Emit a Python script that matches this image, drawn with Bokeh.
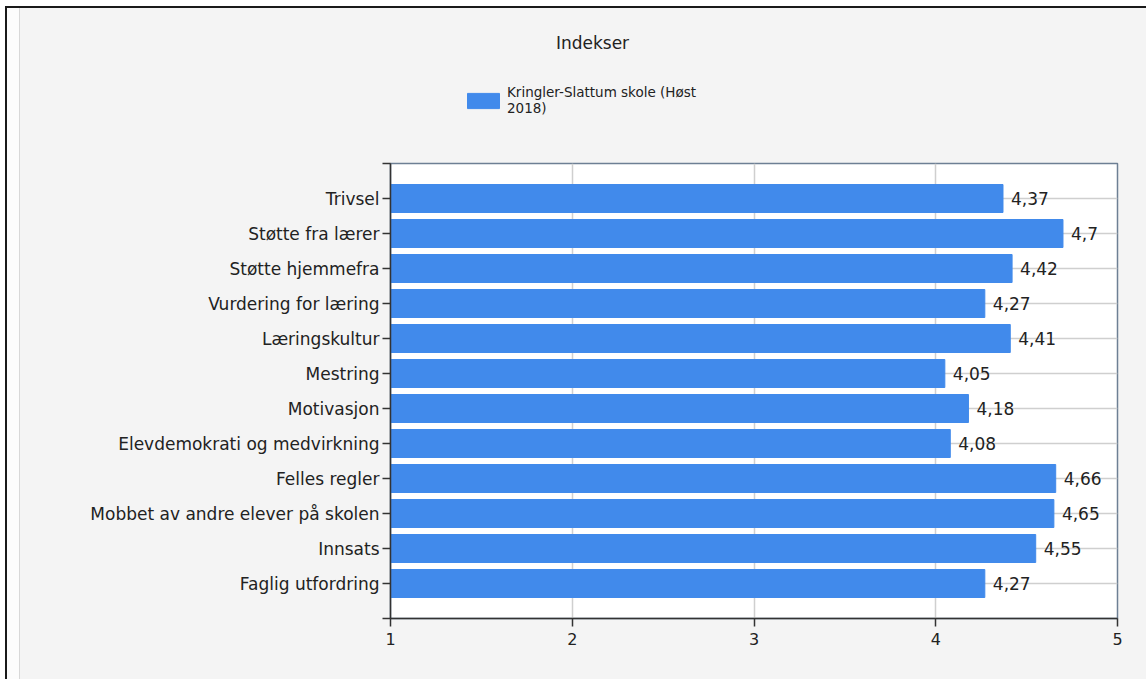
from bokeh.plotting import figure
from bokeh.layouts import column
from bokeh.models import (Range1d, FixedTicker, ColumnDataSource, Legend, LegendItem)
from bokeh.core.properties import value
from bokeh.embed import file_html
from bokeh.resources import INLINE

categories = ["Trivsel", "Støtte fra lærer", "Støtte hjemmefra", "Vurdering for læring",
              "Læringskultur", "Mestring", "Motivasjon", "Elevdemokrati og medvirkning",
              "Felles regler", "Mobbet av andre elever på skolen", "Innsats", "Faglig utfordring"]
values = [4.37, 4.7, 4.42, 4.27, 4.41, 4.05, 4.18, 4.08, 4.66, 4.65, 4.55, 4.27]
value_labels = ["4,37", "4,7", "4,42", "4,27", "4,41", "4,05", "4,18", "4,08", "4,66", "4,65", "4,55", "4,27"]
x_ticks = [1, 2, 3, 4, 5]
series_name = "Kringler-Slattum skole (Høst\n2018)"
title_text = "Indekser"

FONT = "DejaVu Sans"
BAR = "#418aeb"
BG = "#f4f4f4"
TXT = "#222222"

FIG_W = 1126
HEAD_H = 150
MB_L, MB_R = 370, 29
FRAME_W = FIG_W - MB_L - MB_R

# ---------- header: title + legend (frame aligned with chart frame) ----------
head = figure(width=FIG_W, height=HEAD_H, output_backend="svg", toolbar_location=None,
              x_range=Range1d(0, FRAME_W), y_range=Range1d(HEAD_H, 0),
              x_axis_type=None, y_axis_type=None,
              min_border_left=MB_L, min_border_right=MB_R, min_border_top=0, min_border_bottom=0)
head.grid.visible = False
head.outline_line_color = None
head.background_fill_color = BG
head.border_fill_color = BG
head.text(x=[202], y=[34], text=[title_text], text_align="center", text_baseline="middle",
          text_font=value(FONT), text_font_size="17px", text_color=TXT)
swatch = head.rect(x=[-1000], y=[-1000], width=1, height=1, fill_color=BAR, line_color=BAR)
legend = Legend(items=[LegendItem(label=series_name, renderers=[swatch])],
                location=(73, 42), padding=0, margin=0, spacing=0, label_standoff=4)
legend.background_fill_alpha = 0
legend.border_line_color = None
legend.label_text_font = FONT
legend.label_text_font_size = "13.5px"
legend.label_text_color = TXT
legend.label_text_line_height = 1.45
legend.glyph_width = 40
legend.glyph_height = 19
head.add_layout(legend, "center")

# ---------- main chart ----------
positions = list(range(1, len(categories) + 1))
src = ColumnDataSource(dict(y=positions, right=values, left=[1] * len(values), lab=value_labels))

p = figure(width=FIG_W, height=521, output_backend="svg", toolbar_location=None,
           x_range=Range1d(1, 5), y_range=Range1d(len(categories) + 1, 0),
           min_border_left=MB_L, min_border_right=MB_R, min_border_top=5, min_border_bottom=61)

p.background_fill_color = "white"
p.border_fill_color = BG
p.outline_line_color = "#6d7f94"
p.outline_line_width = 1.5

p.xgrid.ticker = FixedTicker(ticks=[2, 3, 4])
p.ygrid.ticker = FixedTicker(ticks=positions)
p.xgrid.grid_line_color = "#cfcfcf"
p.ygrid.grid_line_color = "#cfcfcf"
p.xgrid.grid_line_width = 1.5
p.ygrid.grid_line_width = 1.5

bars = p.hbar(y="y", left="left", right="right", height=0.8, source=src,
              fill_color=BAR, line_color=BAR)

p.text(x="right", y="y", text="lab", source=src, x_offset=8, text_baseline="middle",
       text_font=value(FONT), text_font_size="17px", text_color=TXT)

yticks = [0] + positions + [len(categories) + 1]
p.yaxis.ticker = FixedTicker(ticks=yticks)
overrides = {i + 1: c for i, c in enumerate(categories)}
overrides[0] = ""
overrides[len(categories) + 1] = ""
p.yaxis.major_label_overrides = overrides
p.xaxis.ticker = FixedTicker(ticks=x_ticks)
for ax in (p.xaxis, p.yaxis):
    ax.axis_line_color = "#333333"
    ax.axis_line_width = 1.5
    ax.major_tick_line_color = "#333333"
    ax.major_tick_line_width = 1.5
    ax.major_tick_in = 0
    ax.major_tick_out = 8
    ax.minor_tick_line_color = None
    ax.major_label_text_font = FONT
    ax.major_label_text_font_size = "17px"
    ax.major_label_text_color = TXT
p.xaxis.major_label_text_font_size = "16px"
p.yaxis.major_label_standoff = 3
p.xaxis.major_label_standoff = 6

layout = column(head, p, spacing=0)
layout.styles = {"margin-left": "5px", "margin-top": "6px",
                 "border-left": "2px solid #1a1a1a", "border-top": "2px solid #1a1a1a",
                 "padding-left": "13px",
                 "background": "linear-gradient(to right, #fcfcfc 0px, #fcfcfc 12px, #d8d8d8 12px, #d8d8d8 13px, #f4f4f4 13px)"}

open("out.html", "w").write(file_html(layout, INLINE))
